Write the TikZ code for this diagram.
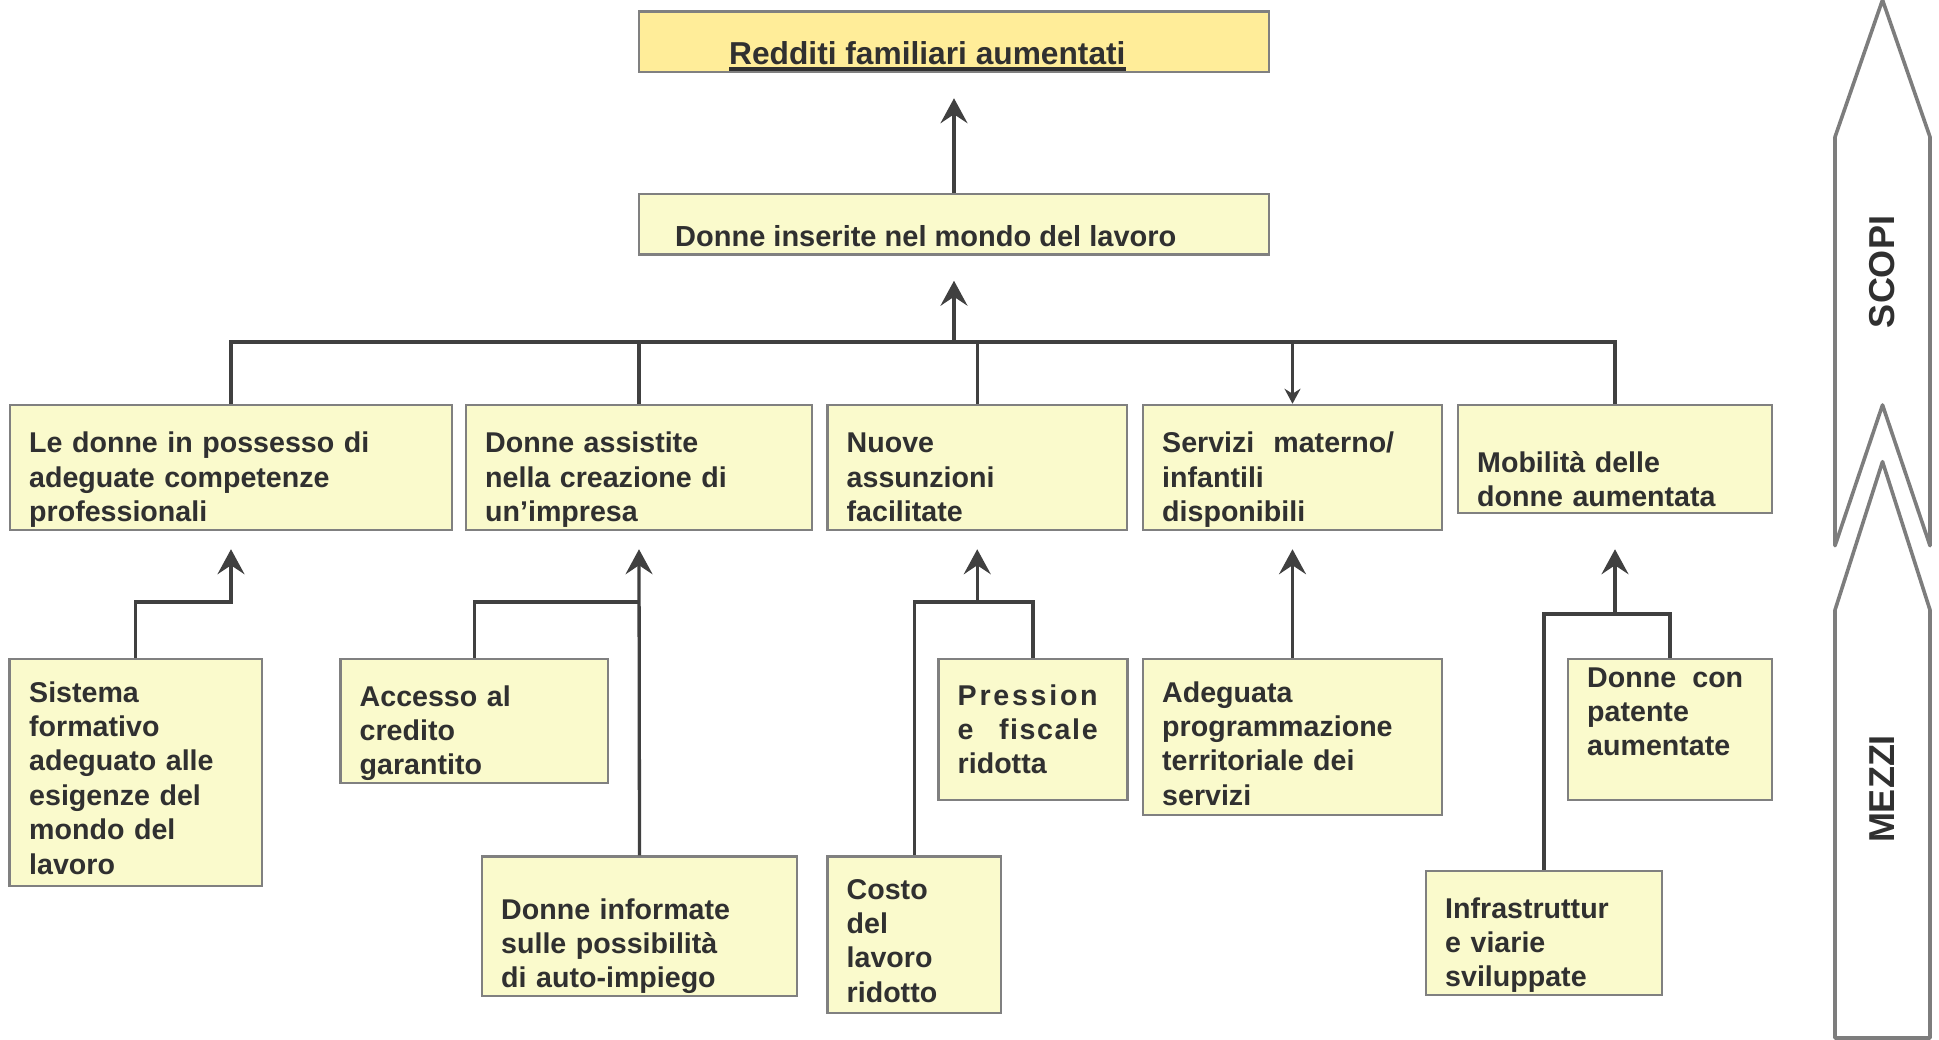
\documentclass[tikz,border=0pt]{standalone}
\usepackage{fontspec}
\setmainfont{Liberation Sans}
\usetikzlibrary{arrows.meta}
\definecolor{boxfill}{RGB}{250,250,204}
\definecolor{goalfill}{RGB}{255,237,153}
\definecolor{boxline}{RGB}{128,128,128}
\definecolor{wirec}{RGB}{64,64,64}
\definecolor{ink}{RGB}{48,48,48}
\definecolor{bandline}{RGB}{125,125,125}
\begin{document}
\begin{tikzpicture}[x=1pt,y=-1pt,
  box/.style={draw=boxline, fill=boxfill, line width=2.5pt, rectangle, inner sep=0pt},
  goal/.style={box, fill=goalfill},
  lbl/.style={anchor=base west, inner sep=0pt, text=ink, font=\fontsize{28.6pt}{34.4pt}\selectfont\bfseries},
  para/.style={lbl, text width=500pt, align=left},
  wire/.style={draw=wirec, line width=3.3pt},
  up/.style={wire, -{Stealth[length=25pt,width=27pt,inset=9pt]}},
  down/.style={wire, -{Stealth[length=15pt,width=16pt,inset=5pt]}},
  band/.style={draw=bandline, line width=3.6pt, line join=round},
  bandlbl/.style={rotate=90, inner sep=0pt, text=ink, font=\fontsize{36pt}{40pt}\selectfont\bfseries}]

% canvas
\fill[white] (0,0) rectangle (1939,1040);
\useasboundingbox (0,0) rectangle (1939,1040);
\clip (0,0) rectangle (1939,1040);

% goals
\node[goal, minimum width=630pt, minimum height=60.5pt] (redd) at (954,41.75) {};
\node[box, minimum width=630pt, minimum height=60.5pt] (inser) at (954,224.25) {};

% first level of results
\node[box, minimum width=442pt, minimum height=125pt] (b1) at (231,467.5) {};
\node[box, minimum width=346pt, minimum height=125pt] (b2) at (639,467.5) {};
\node[box, minimum width=299.5pt, minimum height=125pt] (b3) at (977.25,467.5) {};
\node[box, minimum width=299pt, minimum height=125pt] (b4) at (1292.5,467.5) {};
\node[box, minimum width=314pt, minimum height=108pt] (b5) at (1615,459) {};

% means
\node[box, minimum width=252.5pt, minimum height=227pt] (sist) at (135.75,772.5) {};
\node[box, minimum width=267.5pt, minimum height=124pt] (acc) at (474.25,721) {};
\node[box, minimum width=315pt, minimum height=139.5pt] (inf) at (639.5,926.25) {};
\node[box, minimum width=173.5pt, minimum height=156.5pt] (costo) at (914.25,934.75) {};
\node[box, minimum width=188.75pt, minimum height=141pt] (press) at (1033.1,729.5) {};
\node[box, minimum width=299pt, minimum height=156pt] (adeg) at (1292.5,737) {};
\node[box, minimum width=204pt, minimum height=141pt] (pat) at (1670,729.5) {};
\node[box, minimum width=236pt, minimum height=124pt] (infra) at (1544,933) {};

% junction levels
\coordinate (bus) at (954,342);
\coordinate (ya) at (0,602);
\coordinate (yb) at (0,614);

% upper connectors
\draw[up] (inser.north) -- ([yshift=-25pt]redd.south);
\draw[up] (inser.south |- bus) -- ([yshift=-25pt]inser.south);
\draw[wire] (b1.north) -- (b1.north |- bus) -- (b5.north |- bus) -- (b5.north);
\draw[wire] (b2.north |- bus) -- (b2.north);
\draw[wire] (b3.north |- bus) -- (b3.north);
\draw[down] (b4.north |- bus) -- (b4.north);

% lower connectors
\draw[up] (sist.north) |- (b1.south |- ya) -- ([yshift=-18pt]b1.south);
\draw[wire] (acc.north) |- (inf.north |- ya);
\draw[up] (inf.north) -- ([yshift=-18pt]b2.south);
\draw[wire] (costo.north) |- (press.north |- ya) -- (press.north);
\draw[up] (b3.south |- ya) -- ([yshift=-18pt]b3.south);
\draw[up] (adeg.north) -- ([yshift=-18pt]b4.south);
\draw[wire] (infra.north) |- (pat.north |- yb) -- (pat.north);
\draw[up] (b5.south |- yb) -- ([yshift=-35pt]b5.south);

% texts
\node[lbl, font=\fontsize{31.7pt}{36pt}\selectfont\bfseries] (tredd) at (729,65) {Redditi familiari aumentati};
\draw[draw=ink, line width=4pt] ([yshift=-4.5pt]tredd.base west) -- ([yshift=-4.5pt]tredd.base east);
\node[lbl, font=\fontsize{29pt}{34.4pt}\selectfont\bfseries] (tinser) at (675,247) {Donne inserite nel mondo del lavoro};

\node[para] (tb1) at (29,453) {Le donne in possesso di\\adeguate competenze\\professionali};
\node[para] (tb2) at (485,453) {Donne assistite\\nella creazione di\\un’impresa};
\node[para] (tb3) at (846.5,453) {Nuove\\assunzioni\\facilitate};
\node[para] (tb4) at (1162,453) {\makebox[232pt][s]{Servizi\hfil materno/}\\infantili\\disponibili};
\node[para] (tb5) at (1477,472) {Mobilità delle\\donne aumentata};

\node[para] (tsist) at (29,702) {Sistema\\formativo\\adeguato alle\\esigenze del\\mondo del\\lavoro};
\node[para] (tacc) at (359.5,706) {Accesso al\\credito\\garantito};
\node[para] (tinf) at (501,919) {Donne informate\\sulle possibilità\\di auto-impiego};
\node[para] (tpress) at (957.5,705) {\makebox[140pt][s]{P\hfil r\hfil e\hfil s\hfil s\hfil i\hfil o\hfil n}\\\makebox[140pt][s]{e\hskip 0pt plus 16fil f\hfil i\hfil s\hfil c\hfil a\hfil l\hfil e}\\ridotta};
\node[para] (tcosto) at (846.5,899) {Costo\\del\\lavoro\\ridotto};
\node[para] (tadeg) at (1162,702) {Adeguata\\programmazione\\territoriale dei\\servizi};
\node[para] (tpat) at (1587,687) {\makebox[156pt][s]{Donne\hfil con}\\patente\\aumentate};
\node[para] (tinfra) at (1445,918) {Infrastruttur\\e viarie\\sviluppate};

% side bands
\draw[band] (1882.5,0) -- (1930,137) -- (1930,545.7) -- (1882.5,405) -- (1835,545.7) -- (1835,137) -- cycle;
\draw[band] (1882.5,461.7) -- (1930,610) -- (1930,1038) -- (1835,1038) -- (1835,610) -- cycle;
\node[bandlbl] (scopi) at (1882.5,272) {SCOPI};
\node[bandlbl] (mezzi) at (1882.5,789) {MEZZI};
\end{tikzpicture}
\end{document}
